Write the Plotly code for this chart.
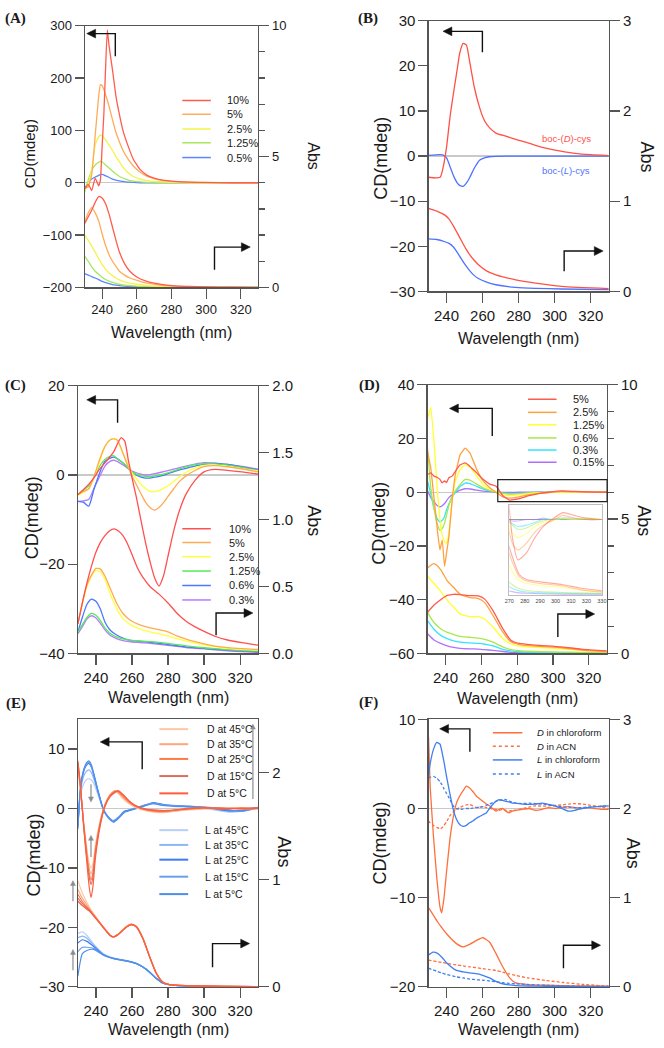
import plotly.graph_objects as go

W, H = 664, 1048


def PX(x):
    return x / W


def PY(y):
    return 1 - y / H


# ---------------- Panel A ----------------
A_LABELS = ["10%", "5%", "2.5%", "1.25%", "0.5%"]
A_COLORS = ["#ff5c4d", "#ffab5a", "#f3f34a", "#a6e85c", "#5c86ff"]
A_CD_WL = [230, 232, 234, 236, 238, 239, 240, 241, 242, 243, 244, 246, 248, 250, 252, 255, 258, 262, 266, 270, 275, 282, 290, 300, 315, 330]
A_CD_10 = [-12, -3, -15, 9, -6, 5, 69, 131, 219, 292, 262, 215, 165, 130, 100, 70, 45, 25, 14, 9, 5, 2.5, 1, 0.5, 0, 0]
A_CD_5 = [-10, -8, 15, 90, 165, 187, 186, 178, 168, 158, 146, 120, 96, 78, 62, 45, 32, 20, 12, 8, 4, 2, 1, 0.3, 0, 0]
A_CD_2_5 = [-15, -2, 25, 72, 88, 91, 90, 86, 82, 77, 72, 62, 50, 40, 30, 19, 12, 7, 4, 2.5, 1.5, 0.5, 0, 0, 0, 0]
A_CD_1_25 = [-18, 5, 24, 34, 39, 41, 40, 37, 34, 31, 28, 22, 17, 12, 9, 5, 3, 1.5, 0.8, 0.3, 0, 0, 0, 0, 0, 0]
A_CD_0_5 = [-10, 0, 7, 11, 14, 15.5, 16, 15, 13, 12, 10, 7, 5, 3.5, 2.5, 1, 0.5, 0, 0, 0, 0, 0, 0, 0, 0, 0]
A_ABS_WL = [230, 232, 234, 236, 238, 240, 242, 244, 246, 248, 250, 253, 256, 260, 265, 270, 275, 282, 290, 300, 315, 330]
A_ABS_10 = [2.44, 2.7, 2.95, 3.25, 3.47, 3.42, 3.2, 2.8, 2.3, 1.8, 1.35, 0.9, 0.62, 0.4, 0.25, 0.16, 0.11, 0.06, 0.035, 0.02, 0.01, 0.0]
A_ABS_5 = [2.5, 2.85, 3.05, 2.85, 2.55, 2.05, 1.6, 1.25, 1.0, 0.8, 0.62, 0.47, 0.36, 0.27, 0.17, 0.12, 0.08, 0.05, 0.03, 0.015, 0.005, 0]
A_ABS_2_5 = [2.0, 1.8, 1.58, 1.35, 1.1, 0.88, 0.7, 0.55, 0.45, 0.36, 0.29, 0.21, 0.16, 0.12, 0.08, 0.05, 0.035, 0.02, 0.01, 0.005, 0, 0]
A_ABS_1_25 = [1.19, 1.0, 0.78, 0.62, 0.5, 0.39, 0.3, 0.24, 0.19, 0.15, 0.12, 0.09, 0.07, 0.05, 0.035, 0.025, 0.015, 0.01, 0.005, 0, 0, 0]
A_ABS_0_5 = [0.525, 0.47, 0.41, 0.36, 0.3, 0.23, 0.18, 0.14, 0.11, 0.09, 0.07, 0.05, 0.035, 0.025, 0.015, 0.01, 0.005, 0, 0, 0, 0, 0]

# ---------------- Panel B ----------------
B_LABELS = ["boc-(<i>D</i>)-cys", "boc-(<i>L</i>)-cys"]
B_COLORS = ["#ff5147", "#4f72ff"]
B_CD_WL = [230, 236.4, 238.2, 240, 241.9, 243.3, 244.6, 246, 247.3, 249.2, 251, 252.8, 255.5, 258.3, 261, 263.8, 267.4, 272.9, 280.2, 289.3, 300.3, 311.2, 320, 330]
B_CD_D = [-4.7, -4.7, -2.3, 2.0, 8.6, 12.5, 15.9, 19.5, 22.8, 25.0, 24.6, 21.0, 15.1, 10.8, 7.9, 6.3, 5.1, 4.4, 3.5, 2.4, 1.3, 0.6, 0.3, 0.1]
B_CD_L = [0.15, 0.3, 0.2, -0.4, -2.3, -3.8, -5.0, -6.0, -6.5, -6.7, -6.0, -4.8, -2.6, -0.9, -0.4, -0.15, -0.05, 0, 0, 0, 0, 0, 0, 0]
B_ABS_WL = [230, 234.6, 239.1, 241.4, 243.7, 246, 248.2, 250.5, 252.8, 255.1, 257.4, 261.9, 267.4, 278.4, 289.3, 303.9, 330]
B_ABS_D = [0.921, 0.89, 0.845, 0.80, 0.728, 0.645, 0.564, 0.48, 0.408, 0.35, 0.3, 0.23, 0.182, 0.127, 0.091, 0.055, 0.03]
B_ABS_L = [0.582, 0.575, 0.55, 0.532, 0.495, 0.43, 0.36, 0.29, 0.23, 0.18, 0.145, 0.105, 0.073, 0.044, 0.033, 0.026, 0.018]

# ---------------- Panel C ----------------
C_LABELS = ["10%", "5%", "2.5%", "1.25%", "0.6%", "0.3%"]
C_COLORS = ["#ff5050", "#ffaa55", "#ffff3c", "#55ea55", "#4a78ff", "#b67bff"]
C_CD_WL = [230, 233, 236, 239, 242, 245, 248, 250, 252, 254, 256, 258, 260, 262.5, 265, 267.5, 270, 272.5, 275, 277.5, 280, 283, 286, 290, 295, 300, 306, 313, 321, 330]
C_CD_10 = [-4.4, -3.3, -2.1, -0.6, 1.3, 2.7, 4.2, 5.3, 7.0, 8.4, 7.6, 3.3, -0.6, -5.1, -10.2, -15.1, -19.4, -23.0, -24.9, -22.6, -18.2, -12.8, -8.4, -4.3, -1.2, 0.7, 1.25, 1.05, 0.7, 0.2]
C_CD_5 = [-4.4, -3.7, -3.1, -0.3, 3.4, 6.4, 7.9, 8.1, 7.8, 6.0, 3.8, 1.7, -0.2, -2.2, -4.2, -6.1, -7.3, -7.9, -7.3, -6.2, -4.8, -3.2, -1.6, -0.2, 1.0, 1.85, 2.1, 1.85, 1.4, 0.7]
C_CD_2_5 = [-4.6, -3.9, -3.1, -0.6, 2.8, 6.3, 7.9, 8.2, 7.6, 5.8, 4.1, 2.2, 0.5, -0.8, -2.1, -3.0, -3.7, -3.7, -3.5, -3.0, -2.4, -1.5, -0.5, 0.6, 1.6, 2.1, 2.2, 1.9, 1.4, 0.9]
C_CD_1_25 = [-4.4, -3.4, -2.5, -0.5, 1.9, 3.5, 4.2, 4.3, 3.6, 3.0, 2.4, 1.4, 0.7, 0.2, -0.2, -0.3, -0.4, -0.2, 0.0, 0.2, 0.5, 0.9, 1.3, 1.8, 2.3, 2.5, 2.5, 2.2, 1.7, 1.0]
C_CD_0_6 = [-5.9, -6.1, -7.0, -3.1, 0.4, 3.1, 3.8, 4.0, 3.6, 3.0, 2.3, 1.5, 0.7, 0.0, -0.5, -0.7, -0.7, -0.5, -0.3, -0.1, 0.3, 0.7, 1.1, 1.5, 2.0, 2.45, 2.6, 2.35, 1.8, 1.1]
C_CD_0_3 = [-5.9, -5.8, -5.5, -2.9, -0.4, 2.0, 3.1, 3.3, 3.0, 2.5, 2.0, 1.4, 0.9, 0.5, 0.2, 0.0, 0.1, 0.3, 0.5, 0.75, 1.0, 1.3, 1.6, 2.0, 2.45, 2.75, 2.65, 2.35, 1.9, 1.3]
C_ABS_WL = [230, 232.5, 235, 237.5, 240, 242.5, 245, 247.5, 250, 252.5, 255, 257.5, 260, 263, 266, 270, 275, 280, 285, 290, 295, 300, 306, 313, 321, 330]
C_ABS_10 = [0.22, 0.38, 0.525, 0.65, 0.755, 0.83, 0.88, 0.915, 0.93, 0.915, 0.88, 0.82, 0.74, 0.64, 0.57, 0.50, 0.443, 0.377, 0.30, 0.24, 0.198, 0.165, 0.128, 0.1, 0.08, 0.061]
C_ABS_5 = [0.22, 0.38, 0.51, 0.585, 0.635, 0.63, 0.578, 0.50, 0.42, 0.35, 0.298, 0.265, 0.24, 0.22, 0.205, 0.19, 0.177, 0.16, 0.13, 0.107, 0.088, 0.071, 0.055, 0.043, 0.035, 0.029]
C_ABS_2_5 = [0.22, 0.37, 0.50, 0.575, 0.62, 0.61, 0.555, 0.46, 0.38, 0.31, 0.26, 0.23, 0.207, 0.19, 0.175, 0.16, 0.146, 0.13, 0.11, 0.092, 0.077, 0.064, 0.05, 0.038, 0.03, 0.024]
C_ABS_1_25 = [0.159, 0.215, 0.268, 0.298, 0.285, 0.245, 0.19, 0.155, 0.132, 0.118, 0.108, 0.101, 0.097, 0.094, 0.091, 0.088, 0.082, 0.074, 0.065, 0.056, 0.049, 0.042, 0.035, 0.028, 0.022, 0.017]
C_ABS_0_6 = [0.159, 0.27, 0.365, 0.405, 0.39, 0.33, 0.235, 0.18, 0.15, 0.13, 0.115, 0.103, 0.096, 0.092, 0.088, 0.083, 0.075, 0.066, 0.057, 0.049, 0.043, 0.037, 0.031, 0.025, 0.018, 0.012]
C_ABS_0_3 = [0.147, 0.2, 0.256, 0.281, 0.265, 0.225, 0.175, 0.14, 0.12, 0.105, 0.096, 0.089, 0.085, 0.082, 0.079, 0.075, 0.068, 0.06, 0.052, 0.044, 0.038, 0.033, 0.026, 0.019, 0.013, 0.007]

# ---------------- Panel D ----------------
D_LABELS = ["5%", "2.5%", "1.25%", "0.6%", "0.3%", "0.15%"]
D_COLORS = ["#ff5a4a", "#ffa040", "#ffff30", "#a8e84a", "#36e3ff", "#b070ff"]
D_CD_WL = [230, 231.8, 233.6, 235.5, 236.9, 238.2, 239.5, 240.6, 241.9, 243.7, 245.5, 248.2, 251, 253.7, 257.4, 261, 264.7, 268.3, 272, 275.6, 281.1, 286.6, 292, 297.5, 304.8, 312, 320, 330]
D_CD_5 = [6.6, 7.2, 6.0, 5.5, 4.8, 3.5, 4.2, 3.6, 5.4, 6.0, 7.8, 10.2, 10.9, 9.6, 7.2, 4.8, 3.0, 2.2, -1.3, -2.9, -2.4, -1.3, -0.5, 0.0, 0.5, 0.3, 0.1, 0.0]
D_CD_2_5 = [15.2, 9.0, -2.0, -14.2, -21.5, -17.8, -27.6, -22.7, -16.6, -3.2, 6.6, 14.0, 16.4, 14.6, 8.5, 4.2, 1.7, -0.1, -1.7, -2.2, -1.7, -0.9, -0.4, -0.1, 0.3, 0.1, 0.0, 0.0]
D_CD_1_25 = [27.4, 31.7, 18.9, 0.5, -10.0, -16.0, -18.5, -19.0, -15.4, -3.2, 4.2, 8.5, 10.3, 9.3, 6.0, 2.9, 1.1, 0.2, -1.0, -1.3, -1.0, -0.5, -0.2, -0.1, 0.1, 0.0, 0.1, 0.0]
D_CD_0_6 = [16.4, 1.7, -6.0, -12.0, -14.2, -13.5, -11.5, -8.5, -5.0, -1.5, 0.5, 2.9, 4.8, 4.5, 3.0, 1.6, 0.7, 0.1, -0.4, -0.7, -0.6, -0.3, -0.1, 0.0, 0.0, 0.0, 0.0, 0.0]
D_CD_0_3 = [4.2, -0.7, -6.0, -10.0, -11.1, -10.5, -9.0, -6.5, -4.4, -1.8, -0.1, 2.2, 3.4, 3.2, 2.2, 1.2, 0.5, 0.0, -0.3, -0.5, -0.4, -0.2, 0.0, 0.0, 0.1, 0.0, 0.1, 0.0]
D_CD_0_15 = [0.5, -2.0, -3.6, -5.0, -5.4, -5.0, -4.2, -3.2, -2.0, -0.9, -0.1, 0.8, 1.3, 1.2, 0.8, 0.4, 0.2, 0.0, -0.1, -0.1, 0.0, 0.0, 0.1, 0.0, 0.1, 0.1, 0.0, 0.0]
D_ABS_WL = [230, 233.6, 237.3, 241, 244.6, 248.2, 253.7, 258.3, 261.9, 266.5, 272, 276.5, 281.1, 290.2, 304.8, 315.8, 330]
D_ABS_5 = [1.53, 1.8, 2.0, 2.16, 2.2, 2.19, 2.15, 2.14, 2.02, 1.59, 0.92, 0.49, 0.37, 0.31, 0.24, 0.16, 0.09]
D_ABS_2_5 = [3.18, 3.34, 3.12, 2.7, 2.45, 2.2, 2.08, 2.04, 1.89, 1.41, 0.79, 0.43, 0.33, 0.27, 0.21, 0.12, 0.06]
D_ABS_1_25 = [2.87, 2.6, 2.32, 1.98, 1.72, 1.47, 1.37, 1.37, 1.28, 0.98, 0.55, 0.35, 0.27, 0.22, 0.17, 0.11, 0.06]
D_ABS_0_6 = [1.53, 1.15, 0.92, 0.78, 0.70, 0.63, 0.6, 0.57, 0.52, 0.42, 0.24, 0.14, 0.1, 0.07, 0.05, 0.04, 0.03]
D_ABS_0_3 = [1.22, 0.9, 0.67, 0.55, 0.47, 0.42, 0.39, 0.37, 0.34, 0.28, 0.15, 0.09, 0.06, 0.04, 0.03, 0.02, 0.02]
D_ABS_0_15 = [0.73, 0.5, 0.37, 0.28, 0.22, 0.19, 0.17, 0.16, 0.14, 0.11, 0.07, 0.04, 0.03, 0.02, 0.01, 0.01, 0.01]
D_INSET_TICKS = [270, 280, 290, 300, 310, 320, 330]

# ---------------- Panel E ----------------
E_D_LABELS = ["D at 45°C", "D at 35°C", "D at 25°C", "D at 15°C", "D at 5°C"]
E_L_LABELS = ["L at 45°C", "L at 35°C", "L at 25°C", "L at 15°C", "L at 5°C"]
E_D_COLORS = ["#ffc6a6", "#ffa67c", "#ff7a45", "#d8705f", "#ff5e3e"]
E_L_COLORS = ["#b5cff7", "#8db8f5", "#3b7cf2", "#6a9ff0", "#4d8fe8"]
E_CD_D_WL = [230, 231.5, 233.3, 235.1, 236.2, 237.3, 238.4, 239.7, 242.4, 245.1, 247.9, 250.6, 252.4, 255.2, 258.8, 262.5, 268, 275.3, 280.7, 290, 300, 310, 320, 330]
E_CD_D45 = [7.0, 2.8, -2.5, -7.0, -9.2, -10.0, -9.2, -6.2, -2.0, 0.8, 2.4, 2.9, 2.5, 1.6, 0.7, 0.1, -0.4, -0.7, -0.6, -0.3, -0.1, 0.0, 0.0, -0.1]
E_CD_D35 = [7.2, 3.0, -2.8, -7.6, -10.0, -11.0, -10.0, -6.8, -2.2, 0.7, 2.3, 3.0, 2.7, 1.8, 0.9, 0.2, -0.3, -0.6, -0.5, -0.2, 0.0, 0.1, 0.0, 0.0]
E_CD_D25 = [7.5, 3.3, -3.0, -8.2, -10.8, -12.0, -10.8, -7.2, -2.4, 0.6, 2.2, 2.9, 2.8, 2.0, 1.0, 0.3, -0.2, -0.5, -0.4, -0.1, 0.1, 0.1, -0.1, 0.0]
E_CD_D15 = [7.8, 3.5, -3.2, -8.6, -11.4, -12.8, -11.4, -7.6, -2.6, 0.5, 2.1, 2.8, 2.9, 2.2, 1.1, 0.4, -0.1, -0.3, -0.4, 0.0, 0.2, 0.0, 0.0, 0.1]
E_CD_D5 = [8.0, 3.7, -3.5, -9.5, -13.0, -15.0, -13.0, -8.4, -2.9, 0.4, 2.0, 2.7, 3.0, 2.3, 1.2, 0.4, -0.2, -0.4, -0.3, -0.1, 0.1, -0.1, 0.1, 0.0]
E_CD_L_WL = [230, 231.5, 233.3, 234.6, 236, 237.4, 238.8, 241.5, 244.2, 247, 249.7, 252.4, 256.1, 259.7, 266.1, 271.6, 277.1, 284.4, 291.7, 303, 313.6, 320.9, 330]
E_CD_L45 = [-2.5, 2.4, 4.2, 4.8, 5.0, 4.8, 4.2, 2.0, -0.3, -1.4, -2.0, -1.5, -0.5, -0.2, 0.3, 0.8, 0.5, 0.3, 0.2, -0.1, -0.6, -0.5, 0.0]
E_CD_L35 = [-2.8, 3.0, 5.5, 6.2, 6.5, 6.1, 5.0, 2.3, -0.3, -1.6, -2.2, -1.6, -0.5, -0.3, 0.3, 0.9, 0.6, 0.5, 0.3, 0.0, -0.5, -0.4, 0.1]
E_CD_L25 = [-3.0, 3.5, 6.3, 7.2, 7.6, 7.0, 5.6, 2.5, -0.2, -1.5, -2.3, -1.7, -0.6, -0.2, 0.4, 1.0, 0.7, 0.4, 0.4, 0.1, -0.4, -0.3, 0.2]
E_CD_L15 = [-3.2, 3.6, 6.5, 7.4, 7.8, 7.2, 5.8, 2.6, -0.2, -1.6, -2.2, -1.6, -0.5, -0.1, 0.5, 0.9, 0.6, 0.5, 0.3, 0.2, -0.2, -0.5, 0.2]
E_CD_L5 = [-3.5, 3.7, 6.6, 7.6, 8.0, 7.4, 5.9, 2.6, -0.2, -1.5, -2.1, -1.5, -0.4, -0.2, 0.4, 0.8, 0.5, 0.4, 0.3, 0.1, -0.3, -0.4, 0.1]
E_ABS_D_WL = [230, 232.4, 236.9, 242.4, 247.9, 249.7, 252.4, 257, 259.7, 262.5, 266.1, 269.8, 273.4, 277.1, 280.7, 290, 310, 330]
E_ABS_D45 = [0.99, 0.88, 0.73, 0.60, 0.485, 0.47, 0.495, 0.566, 0.588, 0.566, 0.456, 0.286, 0.134, 0.046, 0.022, 0.013, 0.007, 0.003]
E_ABS_D35 = [0.91, 0.83, 0.72, 0.595, 0.483, 0.468, 0.493, 0.564, 0.586, 0.564, 0.454, 0.284, 0.132, 0.045, 0.022, 0.013, 0.006, 0.003]
E_ABS_D25 = [0.865, 0.80, 0.71, 0.592, 0.481, 0.467, 0.491, 0.562, 0.584, 0.562, 0.452, 0.282, 0.131, 0.044, 0.021, 0.012, 0.006, 0.003]
E_ABS_D15 = [0.83, 0.78, 0.705, 0.59, 0.48, 0.466, 0.49, 0.56, 0.582, 0.56, 0.45, 0.28, 0.13, 0.043, 0.021, 0.012, 0.006, 0.003]
E_ABS_D5 = [0.80, 0.76, 0.70, 0.59, 0.48, 0.466, 0.49, 0.56, 0.58, 0.56, 0.45, 0.28, 0.13, 0.043, 0.021, 0.012, 0.006, 0.003]
E_ABS_L_WL = [230, 232.5, 235, 238.8, 244.2, 249.7, 257, 262.5, 268, 273.4, 277.1, 284, 300, 330]
E_ABS_L45 = [0.50, 0.515, 0.48, 0.40, 0.31, 0.27, 0.245, 0.22, 0.166, 0.083, 0.037, 0.015, 0.006, 0.003]
E_ABS_L35 = [0.46, 0.475, 0.455, 0.39, 0.305, 0.268, 0.244, 0.219, 0.165, 0.082, 0.036, 0.015, 0.006, 0.003]
E_ABS_L25 = [0.41, 0.44, 0.425, 0.378, 0.30, 0.266, 0.243, 0.218, 0.164, 0.081, 0.036, 0.014, 0.006, 0.003]
E_ABS_L15 = [0.33, 0.37, 0.37, 0.36, 0.298, 0.265, 0.242, 0.217, 0.163, 0.08, 0.035, 0.014, 0.005, 0.002]
E_ABS_L5 = [0.10, 0.31, 0.34, 0.35, 0.296, 0.264, 0.241, 0.216, 0.162, 0.079, 0.035, 0.014, 0.005, 0.002]

# ---------------- Panel F ----------------
F_LABELS = ["<i>D</i> in chloroform", "<i>D</i> in ACN", "<i>L</i> in chloroform", "<i>L</i> in ACN"]
F_COLORS = ["#ff6f3c", "#ff6f3c", "#3f7ff0", "#3f7ff0"]
F_DASHES = ["solid", "3px,2px", "solid", "3px,2px"]
F_CD_WL = [230, 230.9, 232.7, 234.6, 236.4, 237.3, 238.6, 240, 241.9, 243.7, 245.5, 247.3, 249.2, 251, 252.8, 254.6, 256.5, 258.3, 260.1, 262, 263.8, 265.6, 267.4, 269.2, 271.1, 272.9, 274.7, 276.5, 278.4, 282, 285.7, 289.3, 293, 296.6, 300.3, 304, 307.6, 311.2, 314.9, 318.5, 322.2, 326, 330]
F_CD_D_CHL = [8.0, 2.5, -3.0, -7.8, -11.1, -11.7, -10.0, -7.1, -3.4, -1.0, 0.6, 1.4, 2.0, 2.5, 2.3, 1.9, 1.4, 1.1, 0.8, 0.5, 0.3, 0.0, -0.3, -0.1, 0.0, -0.3, -0.5, -0.3, -0.2, -0.1, 0.0, -0.2, -0.1, 0.1, 0.0, 0.1, 0.2, 0.1, 0.0, 0.1, 0.0, -0.1, -0.1]
F_CD_D_ACN = [-1.4, -1.6, -1.9, -2.1, -2.3, -2.2, -1.9, -1.5, -0.8, -0.4, -0.1, 0.1, 0.3, 0.4, 0.45, 0.3, 0.1, 0.15, 0.2, 0.1, 0.0, -0.05, -0.1, -0.2, -0.1, -0.2, -0.3, -0.2, -0.2, 0.0, 0.15, 0.3, 0.25, 0.3, 0.35, 0.4, 0.5, 0.55, 0.5, 0.4, 0.3, 0.15, 0.0]
F_CD_L_CHL = [3.6, 5.0, 6.6, 7.4, 7.2, 6.5, 5.2, 3.6, 1.6, -0.1, -1.2, -1.8, -2.0, -1.9, -1.6, -1.4, -1.1, -0.9, -0.7, -0.5, 0.0, 0.45, 0.8, 1.0, 0.9, 0.8, 0.75, 0.6, 0.6, 0.5, 0.45, 0.5, 0.6, 0.45, 0.3, 0.0, -0.3, -0.2, 0.0, 0.1, 0.2, 0.25, 0.3]
F_CD_L_ACN = [3.4, 3.5, 3.6, 3.4, 3.0, 2.7, 2.2, 1.7, 1.0, 0.3, 0.0, -0.1, -0.05, 0.0, 0.0, 0.05, 0.1, 0.15, 0.2, 0.35, 0.5, 0.65, 0.8, 0.9, 1.0, 1.0, 0.85, 0.7, 0.6, 0.55, 0.6, 0.55, 0.5, 0.4, 0.3, 0.2, 0.15, 0.1, 0.1, 0.15, 0.2, 0.25, 0.3]
F_ABS_WL = [230, 232.5, 235, 237.5, 240, 245.5, 249.2, 252.8, 257.4, 260.1, 263.8, 267.4, 271.1, 274.7, 278.4, 285, 295, 305, 315, 330]
F_ABS_D_CHL = [0.889, 0.81, 0.73, 0.66, 0.595, 0.485, 0.448, 0.477, 0.529, 0.551, 0.503, 0.375, 0.228, 0.11, 0.044, 0.026, 0.018, 0.013, 0.01, 0.007]
F_ABS_D_ACN = [0.301, 0.291, 0.282, 0.273, 0.264, 0.246, 0.235, 0.225, 0.212, 0.204, 0.194, 0.184, 0.165, 0.145, 0.128, 0.101, 0.072, 0.049, 0.029, 0.007]
F_ABS_L_CHL = [0.356, 0.39, 0.375, 0.33, 0.27, 0.184, 0.168, 0.158, 0.145, 0.128, 0.1, 0.062, 0.035, 0.022, 0.015, 0.01, 0.006, 0.004, 0.002, 0.0]
F_ABS_L_ACN = [0.209, 0.19, 0.172, 0.155, 0.14, 0.112, 0.1, 0.088, 0.079, 0.074, 0.066, 0.057, 0.048, 0.04, 0.034, 0.027, 0.018, 0.012, 0.008, 0.004]

WL_TICKS = [240, 260, 280, 300, 320]

# ---------------------------------------------------------------
fig = go.Figure()


def add(x, y, xa, ya, color, width=1.3, dash="solid", name="", opacity=1.0, smooth=0.6):
    fig.add_trace(go.Scatter(
        x=x, y=y, xaxis=xa, yaxis=ya, mode="lines", name=name,
        line=dict(color=color, width=width, dash=dash, shape="spline", smoothing=smooth),
        opacity=opacity, hoverinfo="skip", showlegend=False))


# Panel A (draw low concentrations first)
A_CD = [A_CD_10, A_CD_5, A_CD_2_5, A_CD_1_25, A_CD_0_5]
A_ABS = [A_ABS_10, A_ABS_5, A_ABS_2_5, A_ABS_1_25, A_ABS_0_5]
for lab, cd, ab, col in list(zip(A_LABELS, A_CD, A_ABS, A_COLORS))[::-1]:
    add(A_CD_WL, cd, "x", "y", col, name=lab + " CD", smooth=0.4)
    add(A_ABS_WL, ab, "x", "y7", col, name=lab + " Abs")

# Panel B
add(B_CD_WL, B_CD_L, "x2", "y2", B_COLORS[1], name="L CD")
add(B_CD_WL, B_CD_D, "x2", "y2", B_COLORS[0], name="D CD")
add(B_ABS_WL, B_ABS_L, "x2", "y8", B_COLORS[1], name="L Abs")
add(B_ABS_WL, B_ABS_D, "x2", "y8", B_COLORS[0], name="D Abs")

# Panel C
C_CD = [C_CD_10, C_CD_5, C_CD_2_5, C_CD_1_25, C_CD_0_6, C_CD_0_3]
C_ABS = [C_ABS_10, C_ABS_5, C_ABS_2_5, C_ABS_1_25, C_ABS_0_6, C_ABS_0_3]
for lab, cd, ab, col in list(zip(C_LABELS, C_CD, C_ABS, C_COLORS))[::-1]:
    add(C_CD_WL, cd, "x3", "y3", col, name=lab + " CD")
    add(C_ABS_WL, ab, "x3", "y9", col, name=lab + " Abs")

# Panel D
D_CD = [D_CD_5, D_CD_2_5, D_CD_1_25, D_CD_0_6, D_CD_0_3, D_CD_0_15]
D_ABS = [D_ABS_5, D_ABS_2_5, D_ABS_1_25, D_ABS_0_6, D_ABS_0_3, D_ABS_0_15]
for lab, cd, ab, col in list(zip(D_LABELS, D_CD, D_ABS, D_COLORS))[::-1]:
    add(D_CD_WL, cd, "x4", "y4", col, name=lab + " CD", smooth=0.3)
    add(D_ABS_WL, ab, "x4", "y10", col, name=lab + " Abs")
    # inset (zoom of 270-330 nm region)
    ix = [w for w in D_CD_WL if w >= 264]
    iy = [v for w, v in zip(D_CD_WL, cd) if w >= 264]
    add(ix, iy, "x7", "y13", col, width=1.1, opacity=0.5, name=lab + " inset CD")
    jx = [w for w in D_ABS_WL if w >= 264]
    jy = [v for w, v in zip(D_ABS_WL, ab) if w >= 264]
    add(jx, jy, "x7", "y14", col, width=1.1, opacity=0.5, name=lab + " inset Abs")

# Panel E
E_CD_D = [E_CD_D45, E_CD_D35, E_CD_D25, E_CD_D15, E_CD_D5]
E_CD_L = [E_CD_L45, E_CD_L35, E_CD_L25, E_CD_L15, E_CD_L5]
E_ABS_D = [E_ABS_D45, E_ABS_D35, E_ABS_D25, E_ABS_D15, E_ABS_D5]
E_ABS_L = [E_ABS_L45, E_ABS_L35, E_ABS_L25, E_ABS_L15, E_ABS_L5]
for i in range(5):
    add(E_CD_L_WL, E_CD_L[i], "x5", "y5", E_L_COLORS[i], width=1.2, name=E_L_LABELS[i])
    add(E_ABS_L_WL, E_ABS_L[i], "x5", "y11", E_L_COLORS[i], width=1.2, name=E_L_LABELS[i] + " Abs")
for i in range(5):
    add(E_CD_D_WL, E_CD_D[i], "x5", "y5", E_D_COLORS[i], width=1.2, name=E_D_LABELS[i])
    add(E_ABS_D_WL, E_ABS_D[i], "x5", "y11", E_D_COLORS[i], width=1.2, name=E_D_LABELS[i] + " Abs")

# Panel F
F_CD = [F_CD_D_CHL, F_CD_D_ACN, F_CD_L_CHL, F_CD_L_ACN]
F_ABS = [F_ABS_D_CHL, F_ABS_D_ACN, F_ABS_L_CHL, F_ABS_L_ACN]
for lab, cd, ab, col, dsh in zip(F_LABELS, F_CD, F_ABS, F_COLORS, F_DASHES):
    add(F_CD_WL, cd, "x6", "y6", col, width=1.3, dash=dsh, name=lab, smooth=0.4)
    add(F_ABS_WL, ab, "x6", "y12", col, width=1.3, dash=dsh, name=lab + " Abs")

# ---------------------------------------------------------------
AX = "#555555"
TXT = "#1a1a1a"
FONT = "Liberation Sans, Arial, sans-serif"

# key, box(px l,r,t,b), left range, left dtick, right range, right dtick, right minor, right fmt, tick size
PANELS = [
    ("A", (81, 257, 17, 283), [-200, 300], 100, [0, 10], 5, 1, "", 13),
    ("B", (430, 613, 12, 287), [-30, 30], 10, [0, 3], 1, None, "", 15),
    ("C", (74, 257, 383, 655), [-40, 20], 20, [0, 2], 0.5, None, ".1f", 15),
    ("D", (429, 611, 382, 655), [-60, 40], 20, [0, 10], 5, 1, "", 15),
    ("E", (74, 257, 722, 994), [-30, 15], 10, [0, 2.5], 1, None, "", 15),
    ("F", (430, 613, 722, 994), [-20, 10], 10, [0, 3], 1, None, "", 15),
]


def padr(r):
    d = (r[1] - r[0]) * 1e-5
    return [r[0] - d, r[1] + d]


layout = dict(
    width=W, height=H, margin=dict(l=0, r=0, t=0, b=0, pad=0),
    paper_bgcolor="white", plot_bgcolor="rgba(0,0,0,0)",
    showlegend=False, font=dict(family=FONT, color=TXT),
)

for i, (key, box, lr, ld, rr, rd, rminor, rfmt, tsz) in enumerate(PANELS, start=1):
    s = "" if i == 1 else str(i)
    x0, x1, y0, y1 = box
    layout["xaxis" + s] = dict(
        domain=[PX(x0), PX(x1)], range=[230, 330], tickvals=WL_TICKS,
        ticks="outside", ticklen=10, tickwidth=1.2, tickcolor=AX,
        showline=True, mirror=True, linecolor=AX, linewidth=1.2,
        showgrid=False, zeroline=False, anchor="y" + s,
        tickfont=dict(size=tsz, family=FONT, color=TXT), fixedrange=True)
    layout["yaxis" + s] = dict(
        domain=[PY(y1), PY(y0)], range=padr(lr), dtick=ld, tick0=0,
        ticks="outside", ticklen=9, tickwidth=1.2, tickcolor=AX,
        showline=True, linecolor=AX, linewidth=1.2, showgrid=False,
        zeroline=True, zerolinecolor="#c9c9c9", zerolinewidth=1.2,
        anchor="x" + s, side="left",
        tickfont=dict(size=tsz, family=FONT, color=TXT), fixedrange=True)
    right = dict(
        overlaying="y" + s, anchor="x" + s, side="right",
        range=padr(rr), dtick=rd, tick0=0,
        ticks="outside", ticklen=10, tickwidth=1.2, tickcolor=AX,
        showline=True, linecolor=AX, linewidth=1.2, showgrid=False, zeroline=False,
        tickfont=dict(size=tsz, family=FONT, color=TXT), fixedrange=True)
    if rfmt:
        right["tickformat"] = rfmt
    if rminor:
        right["minor"] = dict(dtick=rminor, tick0=0, ticks="outside", ticklen=6,
                              tickwidth=1.2, tickcolor=AX, showgrid=False)
    layout["yaxis" + str(i + 6)] = right

# inset axes in panel D
layout["xaxis7"] = dict(
    domain=[PX(512), PX(606)], range=[270, 330], tickvals=D_INSET_TICKS,
    ticks="", showline=True, mirror=True, linecolor="#bdbdbd", linewidth=1,
    showgrid=False, zeroline=False, anchor="y13",
    tickfont=dict(size=5.5, family=FONT, color="#444"), fixedrange=True)
layout["yaxis13"] = dict(
    domain=[PY(596), PY(504)], range=[-5.45, 1.06], showticklabels=False, ticks="",
    showline=True, mirror=True, linecolor="#bdbdbd", linewidth=1, showgrid=False,
    zeroline=True, zerolinecolor="#9a9a9a", zerolinewidth=1.5, anchor="x7", fixedrange=True)
layout["yaxis14"] = dict(
    overlaying="y13", anchor="x7", range=[-0.02, 2.2], visible=False,
    showgrid=False, zeroline=False, fixedrange=True)

fig.update_layout(**layout)

# ---------------------------------------------------------------
ann = []


def text(x, y, t, size, color=TXT, angle=0, xanchor="center", family=FONT):
    ann.append(dict(x=PX(x), y=PY(y), xref="paper", yref="paper", text=t,
                    showarrow=False, textangle=angle, xanchor=xanchor, yanchor="middle",
                    font=dict(size=size, color=color, family=family)))


# axis titles & panel labels
TITLE_POS = {
    "A": dict(cd=(25, 147, 15), ab=(313, 150, 16), wl=(169, 329, 16), lab=(11, 10)),
    "B": dict(cd=(381, 152, 18), ab=(652, 150, 18), wl=(521.5, 335, 16), lab=(369, 10)),
    "C": dict(cd=(27, 517, 18), ab=(314, 520, 18), wl=(165.5, 700, 16), lab=(11, 383)),
    "D": dict(cd=(379, 523, 18), ab=(649, 520, 18), wl=(520, 701, 16), lab=(370, 383)),
    "E": dict(cd=(30, 860, 18), ab=(283, 857, 18), wl=(165.5, 1037, 16), lab=(11, 706)),
    "F": dict(cd=(381, 848, 18), ab=(638, 858, 18), wl=(521.5, 1037, 16), lab=(369, 705)),
}
for key, p in TITLE_POS.items():
    text(p["cd"][0], p["cd"][1], "CD(mdeg)", p["cd"][2], angle=-90)
    text(p["ab"][0], p["ab"][1], "Abs", p["ab"][2], angle=90)
    text(p["wl"][0], p["wl"][1], "Wavelength (nm)", p["wl"][2])
    text(p["lab"][0], p["lab"][1], "<b>(" + key + ")</b>", 15, family="Liberation Serif, Times New Roman, serif")

shapes = []


def P(x, y):
    return f"{PX(x):.5f},{PY(y):.5f}"


def seg(x0, y0, x1, y1, color, width=1.5, dash="solid"):
    shapes.append(dict(type="line", xref="paper", yref="paper", x0=PX(x0), y0=PY(y0),
                       x1=PX(x1), y1=PY(y1), line=dict(color=color, width=width, dash=dash)))


def path(d, color, width=1.4, fill=None):
    sh = dict(type="path", xref="paper", yref="paper", path=d, line=dict(color=color, width=width))
    if fill:
        sh["fillcolor"] = fill
    shapes.append(sh)


def left_arrow(tip, y, corner, bottom, color="#111111", hw=9, hh=4.5):
    path(f"M {P(tip + hw - 1, y)} L {P(corner, y)} L {P(corner, bottom)}", color)
    path(f"M {P(tip, y)} L {P(tip + hw, y - hh)} L {P(tip + hw, y + hh)} Z", color, 0.5, color)


def right_arrow(x, bottom, top, tip, color="#111111", hw=9, hh=4.5):
    path(f"M {P(x, bottom)} L {P(x, top)} L {P(tip - hw + 1, top)}", color)
    path(f"M {P(tip, top)} L {P(tip - hw, top - hh)} L {P(tip - hw, top + hh)} Z", color, 0.5, color)


def v_arrow(x, y_from, y_to, color="#8c8c8c", hw=5, hh=2.5):
    sgn = 1 if y_to < y_from else -1   # up if y_to above
    path(f"M {P(x, y_from)} L {P(x, y_to + sgn * (hw - 1))}", color, 1.2)
    path(f"M {P(x, y_to)} L {P(x - hh, y_to + sgn * hw)} L {P(x + hh, y_to + sgn * hw)} Z", color, 0.5, color)


left_arrow(83, 25, 112, 48)
right_arrow(212.7, 265, 242, 249)
left_arrow(444.7, 22.7, 484.7, 44)
right_arrow(567.7, 266.7, 246, 607.3)
left_arrow(83, 397.3, 114.3, 420.7)
right_arrow(214.3, 636.7, 614, 251.7)
left_arrow(451.3, 406, 494.7, 434)
right_arrow(561.3, 638.3, 615, 598.7)
left_arrow(96.7, 745, 139.3, 772.7)
right_arrow(210.7, 974, 950, 248.3)
left_arrow(441.3, 731.7, 472, 755)
right_arrow(567, 975, 951.7, 604.7)

# temperature trend arrows (panel E)
v_arrow(251.7, 803, 727)
v_arrow(87.3, 788, 806)
v_arrow(87.3, 862, 840)
v_arrow(69, 907, 886)
v_arrow(69, 977, 956)

# highlight box in panel D
shapes.append(dict(type="rect", xref="paper", yref="paper", x0=PX(500.3), x1=PX(611.3),
                   y0=PY(500.7), y1=PY(478.3), line=dict(color="#222222", width=1.2)))

# ----- legends (swatch + text) -----
A_ROWS = [93, 107, 122, 136, 151]
for lab, col, yy in zip(A_LABELS, A_COLORS, A_ROWS):
    seg(180, yy, 209, yy, col, 1.5)
    text(223, yy, lab, 11, xanchor="left")

C_ROWS = [528.3, 542.3, 556.7, 571.3, 586, 600.7]
for lab, col, yy in zip(C_LABELS, C_COLORS, C_ROWS):
    seg(180, yy, 209, yy, col, 1.5)
    text(225, yy, lab, 11, xanchor="left")

D_ROWS = [396.7, 410, 422.7, 436, 448.3, 460.7]
for lab, col, yy in zip(D_LABELS, D_COLORS, D_ROWS):
    seg(531, yy, 560, yy, col, 1.5)
    text(575, yy, lab, 11, xanchor="left")

E_D_ROWS = [732, 747.3, 762.3, 779.7, 797.3]
E_L_ROWS = [834.7, 849.7, 864.7, 882, 899.7]
for lab, col, yy in zip(E_D_LABELS, E_D_COLORS, E_D_ROWS):
    seg(156.7, yy, 186, yy, col, 2)
    text(203, yy, lab, 10.5, xanchor="left")
for lab, col, yy in zip(E_L_LABELS, E_L_COLORS, E_L_ROWS):
    seg(156.7, yy, 186, yy, col, 2)
    text(201.5, yy, lab, 10.5, xanchor="left")

F_ROWS = [735.7, 749.3, 763.3, 777.7]
for lab, col, dsh, yy in zip(F_LABELS, F_COLORS, F_DASHES, F_ROWS):
    seg(495.3, yy, 525.3, yy, col, 1.5, "dot" if dsh != "solid" else "solid")
    text(538, yy, lab, 9.5, xanchor="left")

# panel B inline labels
text(543, 132, B_LABELS[0], 9.5, color=B_COLORS[0], xanchor="left")
text(543, 164, B_LABELS[1], 9.5, color=B_COLORS[1], xanchor="left")

fig.update_layout(annotations=ann, shapes=shapes)

fig.write_html("out.html", config={"displayModeBar": False, "staticPlot": True},
               post_script="document.body.style.margin='0';")
